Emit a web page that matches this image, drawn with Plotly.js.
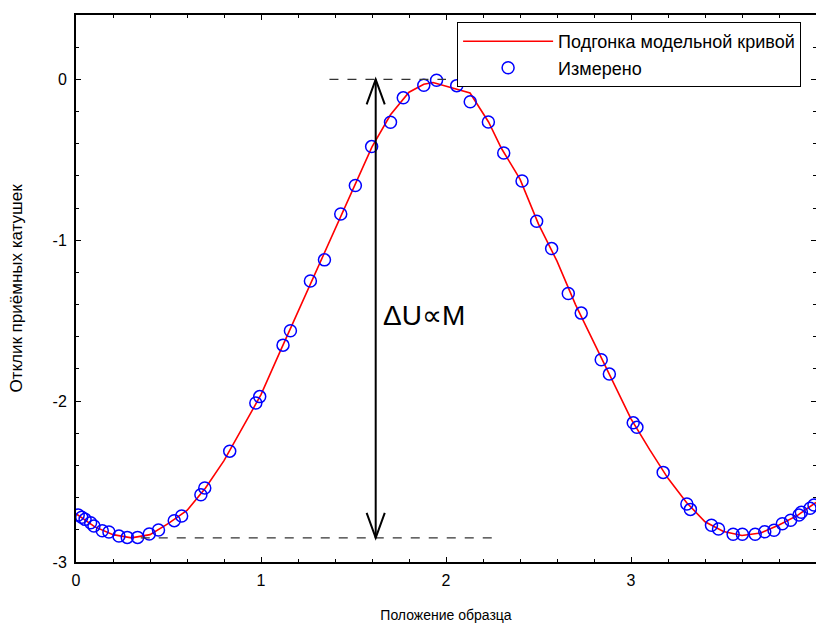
<!DOCTYPE html>
<html>
<head>
<meta charset="utf-8">
<script src="https://cdn.plot.ly/plotly-3.0.1.min.js"></script>
<style>html,body{margin:0;padding:0;background:#fff;}#chart{width:816px;height:624px;}</style>
</head>
<body>
<div id="chart"></div>
<script>
// Measured points
const measX = [0.012,0.031,0.049,0.079,0.097,0.142,0.178,0.232,0.277,0.333,0.396,0.446,0.531,0.571,0.675,0.696,0.831,0.972,0.993,1.119,1.159,1.267,1.343,1.431,1.510,1.598,1.700,1.769,1.880,1.949,2.058,2.131,2.229,2.312,2.411,2.490,2.571,2.661,2.731,2.839,2.883,3.012,3.032,3.174,3.302,3.321,3.435,3.473,3.552,3.602,3.671,3.723,3.773,3.818,3.863,3.908,3.921,3.968,3.989];
const measY = [-2.708,-2.722,-2.735,-2.756,-2.776,-2.806,-2.814,-2.839,-2.847,-2.847,-2.826,-2.801,-2.743,-2.714,-2.582,-2.540,-2.311,-2.012,-1.972,-1.652,-1.563,-1.253,-1.122,-0.837,-0.660,-0.418,-0.267,-0.115,-0.037,-0.006,-0.039,-0.139,-0.265,-0.458,-0.632,-0.882,-1.052,-1.331,-1.453,-1.743,-1.832,-2.135,-2.163,-2.443,-2.640,-2.673,-2.772,-2.795,-2.828,-2.828,-2.828,-2.812,-2.803,-2.762,-2.741,-2.708,-2.691,-2.666,-2.646];
// Fitted model curve
const fitX = [0,0.1,0.2,0.3,0.4,0.5,0.6,0.7,0.8,0.9,1.0,1.1,1.2,1.3,1.4,1.5,1.6,1.7,1.8,1.88,1.93,2.13,2.23,2.3,2.4,2.5,2.6,2.7,2.8,2.9,3.0,3.1,3.2,3.3,3.4,3.5,3.6,3.7,3.8,3.9,4.0];
const fitY = [-2.70,-2.78,-2.83,-2.85,-2.83,-2.76,-2.68,-2.54,-2.37,-2.165,-1.96,-1.70,-1.445,-1.196,-0.94,-0.68,-0.42,-0.22,-0.08,-0.03,-0.02,-0.085,-0.265,-0.43,-0.62,-0.90,-1.13,-1.40,-1.64,-1.87,-2.11,-2.30,-2.48,-2.63,-2.75,-2.81,-2.835,-2.82,-2.77,-2.71,-2.63];
// Tick labels
const xTickVals = [0,1,2,3,4];
const xTickText = ['0','1','2','3','4'];
const yTickVals = [-3,-2,-1,0];
const yTickText = ['-3','-2','-1','0'];
// Annotation levels
const levelTop = 0;
const levelBottom = -2.85;
const arrowX = 1.62;

const font = 'Liberation Sans, Arial, sans-serif';

const traces = [
  {x: fitX, y: fitY, mode: 'lines', name: 'Подгонка модельной кривой',
   line: {color: '#ff0000', width: 1.6}},
  {x: measX, y: measY, mode: 'markers', name: 'Измерено',
   marker: {symbol: 'circle-open', size: 12, color: '#0000ff', line: {width: 1.5, color: '#0000ff'}}}
];

const hx = 0.049, hy = 0.155;
const shapes = [
  {type:'line', xref:'x', yref:'y', x0:1.37, x1:2.0, y0:levelTop, y1:levelTop, line:{color:'#333', width:1.2, dash:'dash'}},
  {type:'line', xref:'x', yref:'y', x0:0.35, x1:2.25, y0:levelBottom, y1:levelBottom, line:{color:'#333', width:1.2, dash:'dash'}},
  {type:'line', xref:'x', yref:'y', x0:arrowX, x1:arrowX, y0:levelTop, y1:levelBottom, line:{color:'#000', width:2}},
  {type:'path', xref:'x', yref:'y', path:`M ${arrowX-hx} ${levelTop-hy} L ${arrowX} ${levelTop} L ${arrowX+hx} ${levelTop-hy}`, line:{color:'#000', width:2}},
  {type:'path', xref:'x', yref:'y', path:`M ${arrowX-hx} ${levelBottom+hy} L ${arrowX} ${levelBottom} L ${arrowX+hx} ${levelBottom+hy}`, line:{color:'#000', width:2}}
];

const layout = {
  width: 816, height: 624,
  margin: {l: 76, r: 0, t: 15, b: 62},
  paper_bgcolor: '#fff', plot_bgcolor: '#fff',
  font: {family: font, size: 14, color: '#000'},
  showlegend: true,
  legend: {x: 0.515, y: 0.987, xanchor: 'left', yanchor: 'top',
           bgcolor: '#fff', bordercolor: '#000', borderwidth: 1, itemwidth: 90,
           font: {family: font, size: 18, color: '#000'}, tracegroupgap: 0},
  xaxis: {range: [0, 4], tickvals: xTickVals, ticktext: xTickText,
          showline: true, linecolor: '#000', linewidth: 2, mirror: 'allticks',
          ticks: 'inside', ticklen: 5, tickcolor: '#000', showgrid: false, zeroline: false,
          minor: {dtick: 0.2, ticks: 'inside', ticklen: 3, tickcolor: '#000', showgrid: false},
          tickfont: {size: 16}, ticklabelstandoff: 3,
          title: {text: 'Положение образца', font: {size: 14}, standoff: 22}},
  yaxis: {range: [-3, 0.4], tickvals: yTickVals, ticktext: yTickText,
          showline: true, linecolor: '#000', linewidth: 2, mirror: 'allticks',
          ticks: 'inside', ticklen: 5, tickcolor: '#000', showgrid: false, zeroline: false,
          minor: {dtick: 0.2, ticks: 'inside', ticklen: 3, tickcolor: '#000', showgrid: false},
          tickfont: {size: 16}, ticklabelstandoff: 4,
          title: {text: 'Отклик приёмных катушек', font: {size: 17}, standoff: 26}},
  shapes: shapes,
  annotations: [
    {x: 1.88, y: -1.466, xref: 'x', yref: 'y', text: 'ΔU∝M', showarrow: false,
     font: {family: font, size: 28, color: '#000'}}
  ]
};

Plotly.newPlot('chart', traces, layout, {displayModeBar: false, staticPlot: true});
</script>
</body>
</html>
